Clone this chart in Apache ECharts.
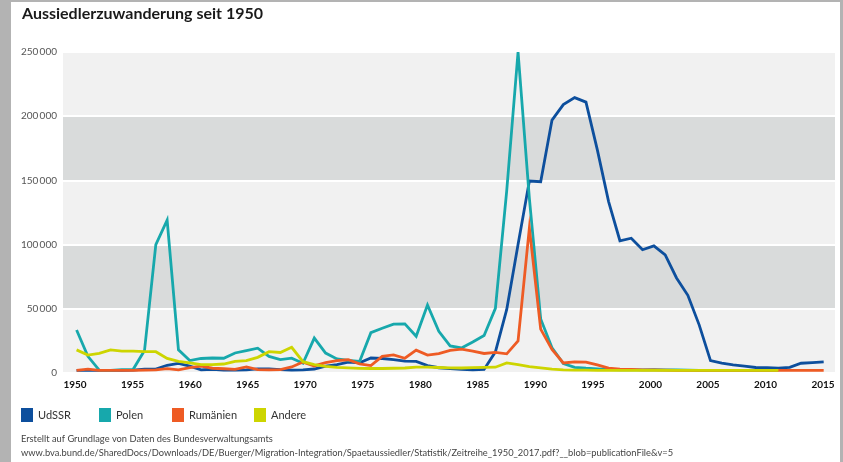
<!DOCTYPE html>
<html>
<head>
<meta charset="utf-8">
<style>
  html, body { margin: 0; padding: 0; background: #b3b3b3; }
  #chart { width: 843px; height: 462px; }
</style>
<script src="https://cdn.jsdelivr.net/npm/echarts@6/dist/echarts.min.js"></script>
</head>
<body>
<div id="chart"></div>
<script>
// Jahre 1950–2016
const years = [
  1950, 1951, 1952, 1953, 1954, 1955, 1956, 1957, 1958, 1959,
  1960, 1961, 1962, 1963, 1964, 1965, 1966, 1967, 1968, 1969,
  1970, 1971, 1972, 1973, 1974, 1975, 1976, 1977, 1978, 1979,
  1980, 1981, 1982, 1983, 1984, 1985, 1986, 1987, 1988, 1989,
  1990, 1991, 1992, 1993, 1994, 1995, 1996, 1997, 1998, 1999,
  2000, 2001, 2002, 2003, 2004, 2005, 2006, 2007, 2008, 2009,
  2010, 2011, 2012, 2013, 2014, 2015, 2016
];

const udssr = [
  2000, 2000, 2000, 2000, 2000, 2200, 3000, 3000, 6000, 7500,
  5300, 2400, 2900, 2200, 2200, 2400, 3200, 3100, 2600, 2300,
  2400, 3100, 5400, 6500, 8500, 8000, 11700, 11300, 10500, 9200,
  9000, 5800, 4100, 3400, 2900, 2500, 2800, 16500, 49500, 100000,
  149500, 149000, 197000, 209000, 214500, 211000, 174000, 133500, 103000, 105000,
  96000, 99000, 92000, 74000, 60500, 37500, 9600, 7700, 6300, 5300,
  4300, 4100, 3800, 4400, 7600, 8100, 8600
];

const polen = [
  33500, 13000, 2200, 2100, 2600, 2900, 17500, 100000, 119000, 18000,
  9700, 11300, 11700, 11500, 15600, 17500, 19300, 12900, 10400, 11500,
  7600, 27200, 15500, 10900, 9800, 9000, 31400, 34900, 38100, 38300,
  28600, 53000, 32400, 21100, 19500, 24100, 29200, 50400, 142000, 250000,
  136000, 42100, 19700, 7400, 4400, 3700, 3200, 2700, 2500, 2400,
  2500, 2600, 2500, 2400, 2300, 2100, 2100, 2100, 2000, 2000,
  2000, 2000, 2000, null, null, null, null
];

const rumaenien = [
  2000, 3000, 2000, 2000, 2000, 2000, 2200, 2400, 3400, 2400,
  4100, 5300, 3700, 3300, 2800, 4700, 2600, 2400, 2600, 4700,
  8500, 5500, 8000, 9600, 10300, 7100, 5800, 13000, 14100, 11500,
  17800, 14000, 15100, 17600, 18600, 17000, 15200, 16000, 14900, 25000,
  113000, 34200, 18300, 7800, 8600, 8500, 6300, 3800, 3000, 2900,
  2500, 2400, 2300, 2100, 2100, 2000, 2000, 2000, 2000, 2000,
  2000, 2000, 2000, 2000, 2000, 2000, 2000
];

const andere = [
  18000, 14000, 15300, 18000, 17100, 17100, 16600, 16600, 11400, 9000,
  7800, 6500, 6500, 7000, 9000, 9600, 12200, 16600, 16000, 20000,
  8800, 6500, 5200, 4400, 4000, 3600, 3500, 3500, 3700, 3900,
  4500, 4500, 4300, 4000, 3900, 4200, 4400, 4500, 7800, 6500,
  5000, 4000, 3000, 2500, 2300, 2200, 2100, 2100, 2000, 2000,
  2000, 2000, 2000, 2000, 2000, 2000, 2000, 2000, 2000, 2000,
  2000, 2000, 2000, null, null, null, null
];

const yTicks = [0, 50000, 100000, 150000, 200000, 250000];
const xTickLabels = [1950, 1955, 1960, 1965, 1970, 1975, 1980, 1985, 1990, 1995, 2000, 2005, 2010, 2015];

const seriesDefs = [
  { name: 'UdSSR', values: udssr, color: '#0d4f9d' },
  { name: 'Polen', values: polen, color: '#17a8ac' },
  { name: 'Rumänien', values: rumaenien, color: '#ee5b24' },
  { name: 'Andere', values: andere, color: '#cdd500' }
];

const FONT = 'Lato, "Open Sans", sans-serif';

function pairs(values) {
  return years.map((y, i) => [y, values[i]]);
}

function fmtThousands(v) {
  if (v === 0) return '0';
  return String(v / 1000) + '\u2009000';
}

const chart = echarts.init(document.getElementById('chart'), null, { renderer: 'canvas' });

const legendLeft = [21, 99, 172, 254];

chart.setOption({
  backgroundColor: '#b3b3b3',
  animation: false,
  graphic: [{
    type: 'rect',
    z: -10,
    shape: { x: 11, y: 2, width: 829, height: 470 },
    style: { fill: '#ffffff' }
  }, {
    type: 'text',
    left: 21, top: 434,
    style: {
      text: 'Erstellt auf Grundlage von Daten des Bundesverwaltungsamts',
      fill: '#444', font: '9.3px ' + FONT
    }
  }, {
    type: 'text',
    left: 21, top: 448,
    style: {
      text: 'www.bva.bund.de/SharedDocs/Downloads/DE/Buerger/Migration-Integration/Spaetaussiedler/Statistik/Zeitreihe_1950_2017.pdf?__blob=publicationFile&v=5',
      fill: '#444', font: '9.3px ' + FONT
    }
  }],
  title: {
    text: 'Aussiedlerzuwanderung seit 1950',
    left: 22, top: 6, padding: 0,
    textStyle: { fontFamily: FONT, fontSize: 16, fontWeight: 'bold', color: '#1a1a1a' }
  },
  legend: seriesDefs.map((s, i) => ({
    data: [s.name],
    left: legendLeft[i], top: 408, padding: 0,
    icon: 'rect', itemWidth: 12, itemHeight: 14,
    textStyle: { fontFamily: FONT, fontSize: 11, color: '#333' },
    selectedMode: false
  })),
  grid: [
    { left: 63, right: 8, top: 52, bottom: 89 },
    { left: 17.46, width: 805.6, top: 52, bottom: 89 }
  ],
  xAxis: [{
    gridIndex: 0, type: 'value', min: 1948.8, max: 2017,
    show: false
  }, {
    gridIndex: 1, type: 'value', min: 1945, max: 2015, interval: 5,
    axisLine: { show: false }, axisTick: { show: false }, splitLine: { show: false },
    showMinLabel: false, showMaxLabel: true,
    axisLabel: {
      margin: 7, color: '#111', fontFamily: FONT, fontSize: 10, fontWeight: 'bold',
      formatter: v => (xTickLabels.indexOf(v) >= 0 ? String(v) : '')
    }
  }],
  yAxis: [{
    gridIndex: 0, type: 'value', min: yTicks[0], max: yTicks[yTicks.length - 1], interval: 50000,
    axisLine: { show: false }, axisTick: { show: false },
    axisLabel: { margin: 6, color: '#555', fontFamily: FONT, fontSize: 10, formatter: fmtThousands },
    splitLine: { show: true, lineStyle: { color: '#ffffff', width: 2 } },
    splitArea: { show: true, areaStyle: { color: ['#f1f1f1', '#d9dbdb'] } }
  }, {
    gridIndex: 1, type: 'value', min: 0, max: 250000, show: false
  }],
  series: seriesDefs.map(s => ({
    name: s.name,
    type: 'line',
    xAxisIndex: 0, yAxisIndex: 0,
    data: pairs(s.values),
    showSymbol: false, symbol: 'none',
    connectNulls: false,
    itemStyle: { color: s.color },
    lineStyle: { color: s.color, width: 2.8, join: 'miter' }
  }))
});
</script>
</body>
</html>
